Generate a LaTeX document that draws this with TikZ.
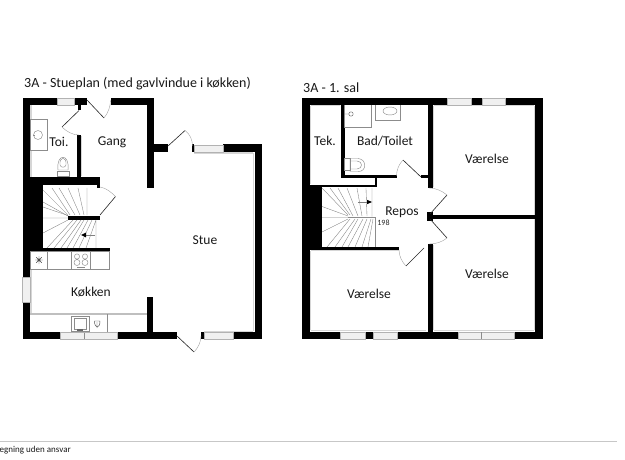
\documentclass[tikz,border=0pt]{standalone}
\usepackage{fontspec}
\setmainfont{Carlito}
\begin{document}
\begin{tikzpicture}[x=1pt,y=-1pt,
  halo/.style={draw=black!16,line width=1.3pt,line cap=butt},
  winbox/.style={fill=black!6,draw=black!30,line width=.6pt},
  fixture/.style={draw=black!45,line width=.45pt},
  tread/.style={draw=black!50,line width=.35pt},
  leaf/.style={draw=black!85,line width=.6pt},
  swing/.style={draw=black!40,line width=.35pt},
  lbl/.style={font=\fontsize{13.5}{15}\selectfont,text=black!90,inner sep=0pt},
  titlelbl/.style={font=\fontsize{14}{16}\selectfont,text=black!90,inner sep=0pt,anchor=west}]
\useasboundingbox (0,0) rectangle (625,460);
\fill[white] (0,0) rectangle (625,460);
\newcommand{\wl}[4]{\fill[black] (#1,#2) rectangle (#3,#4);}
\newcommand{\win}[4]{\draw[winbox] (#1,#2) rectangle (#3,#4);}
% ---------- interior wall shadows, left plan
\draw[halo] (31,105)--(31,119) (31,151)--(31,177) (148,106)--(148,187) (253.7,153)--(253.7,331) (194,153)--(253,153) (204,331.3)--(253,331.3) (31,270)--(31,314) (81.7,136)--(81.7,176);
% ---------- walls, left plan
\wl{22.5}{98}{57}{105}
\wl{74}{98}{87}{105}
\wl{110.5}{98}{154}{105}
\wl{78}{105}{81}{110.5}
\wl{77}{135}{81}{177}
\wl{147}{98}{154}{188}
\wl{147}{144.5}{168}{152}
\wl{192}{144.5}{194}{152}
\wl{223}{144.5}{262}{152}
\wl{254.5}{144.5}{262}{339}
\wl{22.5}{98}{30}{277}
\wl{22.5}{302}{30}{339}
\wl{22.5}{177}{100}{185}
\wl{22.5}{185}{42.5}{251}
\wl{42.5}{248}{110}{251}
\wl{68}{215.5}{100}{220}
\wl{97}{185}{100}{188}
\wl{22.5}{332}{60}{339}
\wl{117}{332}{177}{339}
\wl{201}{332}{204}{339}
\wl{233}{332}{262}{339}
\wl{147}{297}{152.5}{332}
% windows, left plan
\win{57}{98}{74}{105}
\win{194}{145}{223}{152}
\win{204}{332.5}{233}{339}
\win{22.5}{277}{30}{302}
\win{60}{332.5}{117}{339}
\draw[fixture] (84,332.5)--(84,339);
% doors, left plan
\draw[leaf] (87,100)--(104,118);
\draw[swing] (104,118) .. controls (108,113) and (110.5,107) .. (110.5,100);
\draw[leaf] (79,110.5)--(62,127);
\draw[swing] (62,127) .. controls (66,131) and (72,135) .. (79,135);
\draw[leaf] (100,215)--(115.5,196.5);
\draw[swing] (115.5,196.5) .. controls (111,192) and (106,188) .. (100,187);
\draw[leaf] (168,146)--(185,130.5);
\draw[swing] (185,130.5) .. controls (190,134) and (192.5,140) .. (192.5,146);
\draw[leaf] (177,336)--(194,352);
\draw[swing] (194,352) .. controls (198,348) and (201,342) .. (201,336);
% stairs, left plan
\draw[tread] (43,190)--(68,215) (43,202)--(68,216) (52,188)--(70,215) (59,188)--(75,215) (68,188)--(80,215) (78,188)--(84,215) (87,188)--(87,215);
\draw[tread] (43,207)--(68,215.5) (43,218)--(68,218) (43,233)--(68,220) (47,248)--(73,220) (54,248)--(77,220) (61,248)--(81,220) (67,248)--(84,220) (73,248)--(88,220) (79,248)--(92,220) (86,248)--(96,220) (96,220)--(96,248);
\draw[tread] (95,235)--(84,235);
\fill[black] (81,235)--(86,232.6)--(86,237.4)--cycle;
% kitchen counter top
\draw[fixture] (30,251) rectangle (109,269);
\draw[fixture] (47.5,251)--(47.5,269) (71.5,251)--(71.5,269) (90.5,251)--(90.5,269);
\draw[fixture] (77,256.5) circle (2.6) (85,256.5) circle (2.6) (77,262.5) circle (3) (85,262.5) circle (3);
\draw[fixture,draw=black!70] (35,260)--(43,260) (39,256)--(39,264) (36.2,257.2)--(41.8,262.8) (36.2,262.8)--(41.8,257.2);
\fill[black!70] (39,260) circle (1.7);
\draw[fixture] (77,267)--(85,267);
% kitchen counter bottom
\draw[draw=black!25,line width=1.1pt] (30,314)--(147,314);
\draw[fixture] (71.5,316) rectangle (89,331) (74,318) rectangle (86.5,329) (89,316)--(89,332) (107.5,314)--(107.5,332);
\draw[fixture,draw=black!70] (97,322)--(97,328) (94.5,321) .. controls (94.5,329) and (100,329) .. (100,321) -- cycle;
\fill[black!60] (77,329) rectangle (83,330.5);
% Toi. fixtures
\draw[fixture] (30,119) rectangle (47,150);
\draw[fixture] (38,135) circle (4.5);
\draw[fixture] (35,135)--(33,135);
\draw[fixture] (57,176) rectangle (69,171);
\draw[fixture] (58,170) .. controls (56,153) and (70,153) .. (68,170) -- cycle;
\draw[fixture] (60,165) .. controls (59,156) and (67,156) .. (66,165) .. controls (65,168) and (61,168) .. (60,165);
% ---------- interior shadows, right plan
\draw[halo] (534.3,106)--(534.3,330) (433.7,106)--(433.7,187) (433.7,245)--(433.7,330) (434,330.7)--(534,330.7) (434,105.7)--(534,105.7) (311,105.7)--(340,105.7) (310.7,251)--(310.7,330) (311,330.7)--(426,330.7) (310.7,106)--(310.7,184) (311,250.7)--(399,250.7);
% ---------- walls, right plan
\wl{302}{98}{447.5}{105}
\wl{471.5}{98}{482}{105}
\wl{505}{98}{543}{105}
\wl{535}{98}{543}{339}
\wl{302}{98}{310}{339}
\wl{302}{185}{321.5}{250}
\wl{310}{185}{377}{187.5}
\wl{375}{178}{377}{187.5}
\wl{341}{105}{344.5}{178.5}
\wl{341}{175.5}{397}{178.5}
\wl{421}{175.5}{433}{178.5}
\wl{427.5}{105}{433}{188}
\wl{427.5}{244}{433}{339}
\wl{427}{212}{433}{220.5}
\wl{427}{215}{535}{218.5}
\wl{302}{247}{399}{250}
\wl{302}{331.5}{340.5}{339}
\wl{365}{331.5}{373}{339}
\wl{397.5}{331.5}{458}{339}
\wl{514}{331.5}{543}{339}
% windows, right plan
\win{447.5}{98}{471.5}{105}
\win{482}{98}{505}{105}
\win{340.5}{332}{365}{339}
\win{373}{332}{397.5}{339}
\win{458}{332}{514}{339}
\draw[fixture] (481.5,332)--(481.5,339);
% doors, right plan
\draw[leaf] (421,177)--(403,160);
\draw[swing] (403,160) .. controls (399,164) and (396.5,170) .. (396.5,176);
\draw[leaf] (430,214)--(447,195);
\draw[swing] (447,195) .. controls (442,191) and (436,188) .. (429,188);
\draw[leaf] (430,219)--(447,238);
\draw[swing] (447,238) .. controls (442,242) and (436,244) .. (429,244);
\draw[leaf] (424,248)--(406,266);
\draw[swing] (406,266) .. controls (402,262) and (399,256) .. (399,250);
% stairs, right plan
\draw[tread] (322,188)--(348,215) (330,188)--(350,215) (338,188)--(353,216) (347,188)--(358,216) (357,188)--(362,216) (366,188)--(367,216) (372,188)--(372,216.5);
\draw[tread] (322,206.5)--(348,216) (322,217.5)--(348,217.5) (322,232)--(348,219) (327,247)--(350,219) (335,247)--(355,219) (342,247)--(358,219) (348,247)--(363,219) (355,247)--(367,219) (362,247)--(371,219) (368,247)--(373,219);
\draw[draw=black!45,line width=.9pt] (348,217.5)--(375.5,217.5)--(375.5,247);
\draw[tread] (358,202)--(368,202);
\fill[black] (372,202)--(367,199.8)--(367,204.2)--cycle;
% Bad/Toilet fixtures
\draw[fixture] (344.5,105)--(344.5,127)--(371,127)--(371,105);
\draw[fixture] (375,105)--(375,120)--(400,120)--(400,105);
\draw[fixture] (390,111) ellipse (7 and 4);
\draw[fixture,draw=black!60] (351,114) circle (2.2) (344.5,114)--(349,114);
\draw[fixture] (344.5,158.5) rectangle (350,170);
\draw[fixture] (350,158.5) -- (358,158.5) .. controls (367,159) and (367,172) .. (358,171.5) -- (350,171.5) -- cycle;
\draw[fixture] (351,161) -- (357,161) .. controls (363,161) and (363,169) .. (357,169) -- (351,169);
% ---------- labels
\node[titlelbl] (title1) at (24,84) {3A - Stueplan (med gavlvindue i køkken)};
\node[titlelbl] (title2) at (303,88) {3A - 1. sal};
\node[lbl] (toi) at (59,142) {Toi.};
\node[lbl] (gang) at (112,142) {Gang};
\node[lbl] (stue) at (205,240) {Stue};
\node[lbl] (kok) at (91,292) {Køkken};
\node[lbl] (tek) at (325,141) {Tek.};
\node[lbl] (bad) at (385,141) {Bad/Toilet};
\node[lbl] (repos) at (402,212) {Repos};
\node[lbl] (v1) at (487,159) {Værelse};
\node[lbl] (v2) at (487,274) {Værelse};
\node[lbl] (v3) at (369,294) {Værelse};
\node[font=\fontsize{8}{9}\selectfont,text=black!85,inner sep=0pt] (h) at (383.5,222.5) {198};
\draw[draw=black!22,line width=1.2pt] (0,441.7)--(617,441.7);
\node[font=\fontsize{9}{10}\selectfont,text=black!90,inner sep=0pt,anchor=west] (foot) at (-.5,450) {egning uden ansvar};
\end{tikzpicture}
\end{document}
